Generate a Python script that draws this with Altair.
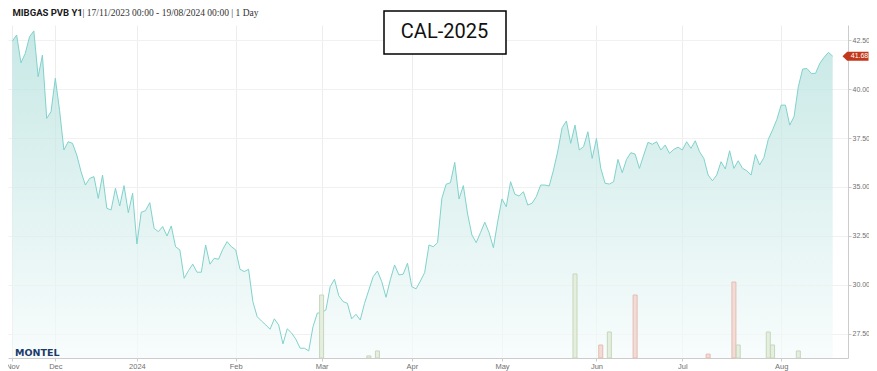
import altair as alt
import pandas as pd

# ---- price series (one value per trading day, MIBGAS PVB Y1 / CAL-2025) ----
prices = [
    42.45, 42.76, 41.34, 41.82, 42.67, 42.97, 40.63, 41.73, 38.50, 38.84,
    40.55, 38.90, 36.89, 37.31, 37.23, 36.63, 35.78, 35.10, 35.44, 35.53,
    34.42, 35.61, 33.91, 33.83, 34.93, 34.03, 35.07, 33.69, 34.68, 32.09,
    33.71, 33.79, 34.20, 32.89, 32.72, 32.98, 32.50, 33.01, 31.95, 31.79,
    30.34, 30.73, 31.06, 30.65, 30.65, 32.04, 31.06, 31.36, 31.31, 31.82,
    32.21, 31.95, 31.79, 30.80, 30.68, 30.80, 29.15, 28.38, 28.16, 27.96,
    27.74, 28.27, 27.96, 26.99, 27.76, 27.55, 27.23, 26.77, 26.77, 26.63,
    27.87, 28.56, 28.59, 28.72, 29.91, 30.29, 29.45, 29.15, 29.06, 28.27,
    28.50, 28.21, 29.06, 29.74, 30.42, 30.71, 30.17, 29.37, 30.26, 31.02,
    30.51, 30.55, 31.11, 29.91, 29.80, 30.20, 30.63, 32.04, 31.95, 32.16,
    34.42, 35.14, 35.22, 36.26, 34.39, 35.07, 33.62, 32.55, 32.16, 32.67,
    33.20, 32.67, 31.90, 33.23, 34.39, 33.99, 35.27, 34.63, 34.54, 34.76,
    34.08, 34.17, 34.51, 35.10, 35.10, 35.05, 35.87, 36.84, 38.03, 38.37,
    37.23, 38.16, 36.89, 37.06, 37.82, 36.46, 37.48, 35.96, 35.19, 35.15,
    35.27, 36.41, 35.73, 36.41, 36.75, 36.68, 35.95, 36.63, 37.28, 37.18,
    37.31, 36.89, 37.14, 36.72, 36.92, 37.03, 36.89, 37.31, 36.97, 37.36,
    36.80, 36.46, 35.61, 35.32, 35.61, 36.29, 35.92, 36.85, 35.95, 36.34,
    35.95, 35.83, 35.61, 36.66, 36.12, 36.51, 37.43, 37.91, 38.45, 39.18,
    39.18, 38.16, 38.59, 40.12, 41.02, 41.05, 40.80, 40.80, 41.31, 41.62,
    41.87, 41.68,
]
day_index = list(range(len(prices)))

# ---- x-axis ticks (trading-day index of first day of month) ----
tick_idx = [0, 10, 29, 52, 72, 93, 114, 136, 156, 179]
tick_lab = ["Nov", "Dec", "2024", "Feb", "Mar", "Apr", "May", "Jun", "Jul", "Aug"]

# ---- y-axis ticks ----
y_ticks = [27.5, 30.0, 32.5, 35.0, 37.5, 40.0, 42.5]

# ---- volume bars ----
vol_idx = [72, 83, 85, 131, 137, 139, 145, 162, 168, 169, 176, 177, 183]
vol_val = [24.2, 0.8, 2.7, 32.3, 5.0, 10.0, 24.2, 1.5, 29.2, 5.0, 10.0, 5.0, 2.7]
vol_dir = ["up", "up", "up", "up", "down", "up", "down", "down", "down", "up", "up", "up", "up"]

last_price = prices[-1]

price_df = pd.DataFrame({"i": day_index, "p": prices})
vol_df = pd.DataFrame({"i": vol_idx, "v": vol_val, "d": vol_dir})
tag_df = pd.DataFrame({"i": [day_index[-1]], "p": [last_price], "t": [f"{last_price:.2f}"]})

W, H = 840, 333
x_scale = alt.Scale(domain=[0.15, 193.4], nice=False, zero=False)
y_dom = [26.27, 43.27]
y_scale = alt.Scale(domain=y_dom, nice=False, zero=False)

label_expr = " : ".join(f"datum.value == {i} ? '{l}'" for i, l in zip(tick_idx, tick_lab)) + " : ''"

x_axis = alt.Axis(
    values=tick_idx, labelExpr=label_expr, title=None, grid=True,
    gridColor="#ededed", gridWidth=1, domainColor="#cccccc", tickColor="#cccccc",
    tickSize=3, labelColor="#707070", labelFontSize=7.5, labelFont="Liberation Sans",
    labelPadding=1, labelFlush=False, labelOverlap=False, labelBound=False,
)
y_axis = alt.Axis(
    orient="right", values=y_ticks, format=".2f", title=None, grid=True,
    gridColor="#f1f1f1", gridWidth=1, domainColor="#cccccc", tickColor="#cccccc",
    tickSize=3, labelColor="#707070", labelFontSize=7, labelFont="Liberation Sans",
    labelPadding=1,
)

grad = alt.Gradient(
    gradient="linear",
    stops=[alt.GradientStop(offset=0, color="#b0dfdb"),
           alt.GradientStop(offset=1, color="#f5fbfb")],
    x1=0, x2=0, y1=0, y2=1,
)

area = alt.Chart(price_df).mark_area(
    color=grad,
    line=alt.OverlayMarkDef(color="#80d2cc", strokeWidth=1),
).encode(
    x=alt.X("i:Q", scale=x_scale, axis=x_axis),
    y=alt.Y("p:Q", scale=y_scale, axis=y_axis),
    y2=alt.datum(y_dom[0]),
)

bars = alt.Chart(vol_df).mark_bar(size=4, strokeWidth=1).encode(
    x=alt.X("i:Q", scale=x_scale, axis=x_axis),
    y=alt.Y("v:Q", scale=alt.Scale(domain=[0, 128], nice=False), axis=None),
    fill=alt.Fill("d:N", scale=alt.Scale(domain=["up", "down"], range=["#e6efdf", "#f4dcd6"]), legend=None),
    stroke=alt.Stroke("d:N", scale=alt.Scale(domain=["up", "down"], range=["#c6d6bc", "#e3bdb4"]), legend=None),
)

tag = alt.Chart(tag_df).mark_point(
    shape="M-1,0L-0.64,-0.346L1,-0.346L1,0.346L-0.64,0.346Z",
    size=676, filled=True, color="#c2381c", opacity=1, strokeWidth=0,
).encode(
    x=alt.value(847.5),
    y=alt.Y("p:Q", scale=y_scale, axis=None),
)
tag_text = alt.Chart(tag_df).mark_text(
    color="white", fontSize=7, font="Liberation Sans", align="center", baseline="middle",
).encode(
    x=alt.value(851.5),
    y=alt.Y("p:Q", scale=y_scale, axis=None),
    text="t:N",
)

one = alt.Data(values=[{}])
hdr_bold = alt.Chart(one).mark_text(
    text="MIBGAS PVB Y1", font="Roboto", fontWeight="bold", fontSize=9.5,
    color="#1a1a1a", align="left", baseline="alphabetic",
).encode(x=alt.value(4.5), y=alt.value(-8.8))
hdr_rest = alt.Chart(one).mark_text(
    text="| 17/11/2023 00:00 - 19/08/2024 00:00 | 1 Day", font="Liberation Serif", fontSize=9.5,
    color="#333333", align="left", baseline="alphabetic",
).encode(x=alt.value(74.5), y=alt.value(-8.8))

box = alt.Chart(one).mark_rect(fill="white", stroke="black", strokeWidth=1.5).encode(
    x=alt.value(376), x2=alt.value(498), y=alt.value(-14), y2=alt.value(29),
)
box_text = alt.Chart(one).mark_text(
    text="CAL-2025", font="Roboto", fontSize=20, color="#111111", align="center", baseline="middle",
).encode(x=alt.value(436.5), y=alt.value(7))

logo = alt.Chart(one).mark_text(
    text="MONTEL", font="DejaVu Sans", fontWeight="bold", fontSize=9.5, color="#1b3b6b",
    align="left", baseline="alphabetic",
).encode(x=alt.value(7), y=alt.value(330.5))

chart = alt.layer(
    area, bars, tag, tag_text, hdr_bold, hdr_rest, box, box_text, logo
).resolve_scale(y="independent").properties(
    width=W, height=H,
    autosize=alt.AutoSizeParams(type="none"),
    padding={"left": 0, "top": 17, "right": 21, "bottom": 13},
).configure_view(stroke=None)

chart.save("out.html", embed_options={"renderer": "svg", "actions": False})
